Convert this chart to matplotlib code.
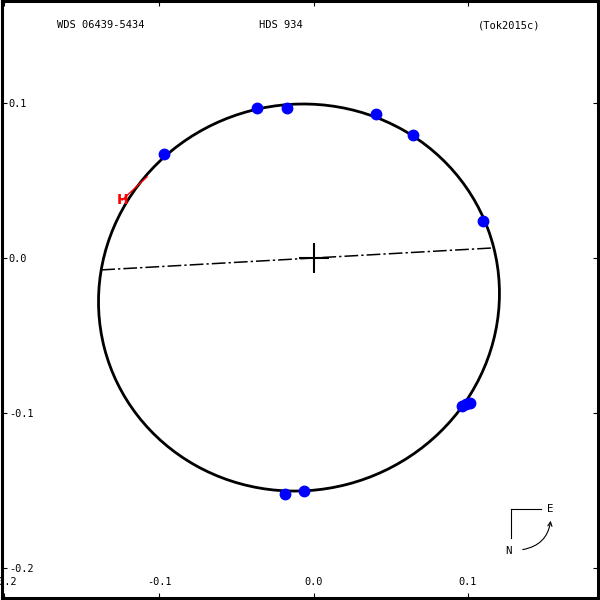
import numpy as np
import matplotlib
matplotlib.use('Agg')
import matplotlib.pyplot as plt
from matplotlib.patches import Ellipse, FancyArrowPatch
from matplotlib.lines import Line2D

# header texts
wds_name = 'WDS 06439-5434'
disc_name = 'HDS 934'
orbit_ref = '(Tok2015c)'

# measured positions (arcsec)
obs_x = [-0.0368, -0.0173, 0.0403, 0.0642, 0.1095, -0.0968,
         0.0964, 0.0990, 0.1016, -0.0184, -0.0061]
obs_y = [0.0970, 0.0966, 0.0929, 0.0794, 0.0241, 0.0671,
         -0.0952, -0.0945, -0.0935, -0.1523, -0.1501]

# Hipparcos point and its predicted position on the orbit
hip_x = [-0.1239]
hip_y = [0.0374]
hip_fit_x = [-0.1078]
hip_fit_y = [0.0523]

# apparent orbit ellipse
orbit_center = (-0.0094, -0.0255)
orbit_semi_major = 0.1301
orbit_semi_minor = 0.1245
orbit_angle = 14.5
node_angle = 3.2

x_ticks = [-0.2, -0.1, 0.0, 0.1]
x_labels = ['-0.2', '-0.1', '0.0', '0.1']
y_ticks = [0.1, 0.0, -0.1, -0.2]
y_labels = ['0.1', '0.0', '-0.1', '-0.2']


def node_line(center, a, b, angle, phi):
    # intersect a line through the origin with the ellipse
    t = np.radians(angle)
    d = np.array([np.cos(np.radians(phi)), np.sin(np.radians(phi))])
    rot = np.array([[np.cos(t), np.sin(t)], [-np.sin(t), np.cos(t)]])
    p0 = rot @ (-np.array(center))
    dd = rot @ d
    qa = (dd[0] / a) ** 2 + (dd[1] / b) ** 2
    qb = 2 * (p0[0] * dd[0] / a ** 2 + p0[1] * dd[1] / b ** 2)
    qc = (p0[0] / a) ** 2 + (p0[1] / b) ** 2 - 1
    disc = np.sqrt(qb ** 2 - 4 * qa * qc)
    s1 = (-qb - disc) / (2 * qa)
    s2 = (-qb + disc) / (2 * qa)
    return [s1 * d[0], s2 * d[0]], [s1 * d[1], s2 * d[1]]


mono = 'DejaVu Sans Mono'
fig = plt.figure(figsize=(6, 6), dpi=100)
ax = fig.add_axes([1.5 / 600, 2.5 / 600, 596.5 / 600, 597 / 600])
ax.set_xlim(-0.20194, 0.18414)
ax.set_ylim(-0.21903, 0.16613)

ell = Ellipse(orbit_center, 2 * orbit_semi_major, 2 * orbit_semi_minor,
              angle=orbit_angle, fill=False, ec='black', lw=2.0, zorder=2)
ax.add_patch(ell)

nx, ny = node_line(orbit_center, orbit_semi_major, orbit_semi_minor,
                   orbit_angle, node_angle)
ax.plot(nx, ny, color='black', lw=1.1, ls=(0, (9, 2, 1.5, 2)), zorder=2)

ax.plot([0], [0], marker='+', ms=22, mew=1.5, color='black', zorder=3)

ax.plot(obs_x, obs_y, 'o', color='#0000ff', ms=7.5, mec='#0000ff', zorder=4)

for hx, hy, fx, fy in zip(hip_x, hip_y, hip_fit_x, hip_fit_y):
    ax.plot([hx, fx], [hy, fy], color='red', lw=1.0, zorder=3)
    ax.text(hx, hy, 'H', color='red', fontsize=10, fontweight='bold',
            ha='center', va='center', zorder=5,
            bbox=dict(fc='none', ec='none', pad=0))

ax.set_xticks(x_ticks)
ax.set_xticklabels(x_labels)
ax.set_yticks(y_ticks)
ax.set_yticklabels(y_labels)
ax.tick_params(direction='in', length=3.8, width=0.8, top=True, right=True,
               labelsize=7.4)
ax.tick_params(axis='x', pad=-14.5)
ax.tick_params(axis='y', pad=-5.2)
for lab in ax.get_yticklabels():
    lab.set_horizontalalignment('left')
    lab.set_family(mono)
for lab in ax.get_xticklabels():
    lab.set_family(mono)
for sp in ax.spines.values():
    sp.set_linewidth(2.2)

# header
fig.text(101 / 600, 1 - 25 / 600, wds_name, ha='center', va='center',
         fontsize=7.5, family=mono)
fig.text(281 / 600, 1 - 25 / 600, disc_name, ha='center', va='center',
         fontsize=7.5, family=mono)
fig.text(509 / 600, 1 - 25 / 600, orbit_ref, ha='center', va='center',
         fontsize=7.5, family=mono)

# compass
def fp(px, py):
    return px / 600, 1 - py / 600

x0, y0 = fp(510.7, 509.3)
x1, _ = fp(540.7, 509.3)
_, y1 = fp(510.7, 538)
fig.add_artist(Line2D([x0, x1], [y0, y0], transform=fig.transFigure, color='black', lw=0.8))
fig.add_artist(Line2D([x0, x0], [y0, y1], transform=fig.transFigure, color='black', lw=0.8))
ex, ey = fp(550, 509)
fig.text(ex, ey, 'E', ha='center', va='center', fontsize=7.8, family=mono)
nx_, ny_ = fp(508, 551)
fig.text(nx_, ny_, 'N', ha='center', va='center', fontsize=7.8, family=mono)
arr = FancyArrowPatch(fp(520, 550), fp(551, 518), transform=fig.transFigure,
                      connectionstyle='arc3,rad=0.4', arrowstyle='->,head_length=3,head_width=1.5',
                      color='black', lw=0.8)
fig.add_artist(arr)

fig.savefig('out.png', dpi=100)
